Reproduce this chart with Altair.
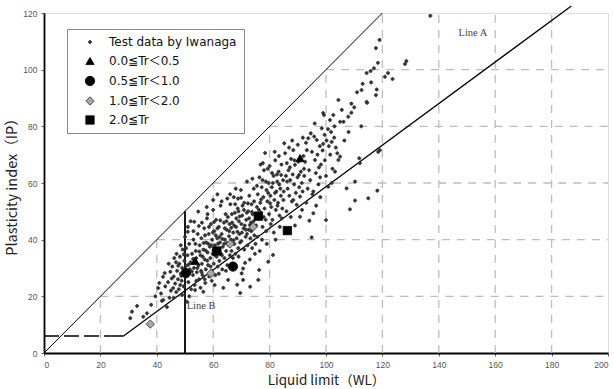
import altair as alt
import pandas as pd

# ---- data ----
# Test data by Iwanaga: (liquid limit, plasticity index)
test_points = [
    (30.6, 12.3), (31.2, 14.6), (33.0, 16.6), (35.2, 12.8), (36.5, 14.0), (40.5, 22.9), (40.9, 24.7),
    (41.8, 18.4), (42.2, 26.9), (43.6, 16.2), (44.8, 28.7), (41.5, 21.0), (43.0, 23.5), (44.0, 25.0),
    (45.0, 22.0), (44.5, 19.5), (42.8, 28.2), (45.3, 26.3), (38.0, 17.0), (39.5, 20.0), (42.3, 18.7),
    (45.8, 22.9),
    (45.5, 30.5), (46.0, 27.0), (46.5, 24.5), (46.8, 32.0), (47.2, 29.0), (47.5, 26.0), (47.8, 22.5),
    (48.0, 31.5), (48.2, 34.0), (48.5, 28.0), (48.8, 25.5), (49.0, 30.0), (49.2, 36.5), (49.5, 23.5),
    (49.8, 32.5), (50.2, 27.0), (50.5, 30.8), (50.7, 18.1), (50.9, 34.5), (51.2, 25.0), (51.5, 38.5),
    (51.7, 29.5), (52.0, 32.0), (52.2, 22.5), (52.5, 35.0), (52.8, 27.5), (53.0, 40.0), (53.2, 30.0),
    (53.4, 24.0), (53.6, 22.2), (53.8, 36.0), (54.0, 33.5), (54.2, 28.5), (54.5, 42.0), (54.7, 49.9),
    (54.8, 31.0), (55.0, 26.0), (55.2, 38.0), (55.5, 34.5), (55.7, 29.0), (47.0, 35.0), (48.5, 38.0),
    (50.0, 41.0), (51.0, 44.5), (52.0, 46.5), (53.0, 43.0), (46.0, 19.5), (49.0, 20.5), (51.5, 20.0),
    (54.0, 25.5), (51.0, 42.8), (53.3, 46.3),
    (55.8, 40.5), (56.0, 31.5), (56.2, 27.5), (56.5, 21.6), (56.5, 36.5), (56.8, 44.0), (57.0, 33.0),
    (57.2, 24.7), (57.4, 29.5), (57.5, 39.0), (57.8, 47.5), (58.0, 35.5), (58.2, 31.0), (58.4, 42.0),
    (58.6, 27.0), (58.8, 37.5), (59.0, 33.5), (59.2, 45.5), (59.4, 29.0), (59.6, 40.0), (59.8, 35.0),
    (60.0, 50.5), (60.2, 31.5), (60.4, 43.0), (60.6, 38.0), (60.8, 27.5), (61.0, 47.0), (61.2, 34.0),
    (61.4, 40.5), (61.6, 30.5), (61.8, 36.5), (62.0, 44.5), (62.2, 32.5), (62.4, 39.0), (62.6, 52.0),
    (62.8, 35.0), (63.0, 42.0), (63.2, 29.5), (63.4, 37.5), (63.6, 23.0), (63.8, 46.0), (64.0, 33.5),
    (64.2, 40.0), (64.4, 49.0), (64.6, 36.0), (64.8, 43.5), (65.0, 31.0), (65.3, 25.8), (56.3, 34.0),
    (57.1, 41.5), (58.3, 38.5), (59.1, 30.5), (59.9, 42.5), (60.7, 34.5), (61.5, 44.0), (62.3, 41.0),
    (63.1, 34.5), (63.9, 38.5), (64.7, 46.5), (58.0, 49.0), (60.0, 54.0), (61.5, 56.0), (62.0, 28.0),
    (57.0, 26.0), (59.5, 25.5), (55.5, 23.0), (60.5, 24.0), (64.5, 29.0), (63.0, 53.5), (56.0, 46.0),
    (65.2, 48.0), (65.5, 38.0), (65.7, 43.0), (65.9, 34.5), (66.1, 52.5), (66.3, 40.0), (66.5, 36.0),
    (66.7, 46.0), (66.9, 31.5), (67.1, 42.5), (67.3, 55.0), (67.5, 38.5), (67.7, 49.5), (67.9, 35.0),
    (68.1, 44.5), (68.3, 40.5), (68.5, 24.1), (68.7, 51.0), (68.9, 37.0), (69.1, 46.5), (69.3, 42.0),
    (69.6, 21.2), (69.8, 57.5), (70.0, 39.5), (70.1, 28.1), (70.3, 48.5), (70.6, 25.8), (70.6, 29.8),
    (70.8, 44.0), (71.0, 53.0), (71.3, 31.8), (71.5, 41.0), (71.7, 47.0), (72.0, 60.5), (72.2, 38.0),
    (72.4, 50.0), (72.6, 43.5), (72.8, 55.5), (73.1, 23.4), (73.2, 40.5), (73.4, 46.0), (73.6, 52.5),
    (73.8, 37.0), (74.0, 49.0), (74.2, 44.0), (74.4, 58.0), (74.6, 41.5), (74.8, 35.0), (65.8, 45.5),
    (66.6, 49.0), (67.4, 45.0), (68.2, 47.5), (69.0, 50.0), (69.5, 39.0), (70.4, 52.0), (71.2, 45.0),
    (71.9, 49.5), (72.7, 47.5), (73.5, 43.0), (74.3, 46.5), (66.0, 56.0), (68.0, 58.0), (70.0, 45.5),
    (72.0, 42.0), (67.0, 33.5), (69.0, 34.0), (71.0, 36.5), (73.0, 33.0), (75.0, 38.5), (68.8, 54.5),
    (75.2, 45.0), (75.5, 51.5), (75.8, 56.0), (76.0, 25.8), (76.1, 47.5), (76.3, 29.3), (76.4, 62.0),
    (76.7, 53.0), (77.0, 49.5), (77.2, 58.5), (77.5, 44.5), (77.8, 55.0), (78.0, 64.5), (78.2, 51.0),
    (78.4, 70.6), (78.6, 47.0), (78.9, 57.5), (79.2, 53.5), (79.5, 32.2), (79.6, 60.0), (79.8, 49.0),
    (80.0, 66.0), (80.3, 55.5), (80.6, 51.5), (80.8, 58.5), (81.0, 47.0), (81.2, 34.6), (81.4, 62.5),
    (81.7, 54.0), (82.0, 68.0), (82.2, 50.5), (82.4, 57.0), (82.7, 60.5), (83.0, 53.0), (83.2, 64.0),
    (83.5, 48.5), (83.8, 58.0), (84.0, 55.5), (84.2, 66.5), (84.5, 51.0), (84.8, 61.0), (85.0, 57.0),
    (75.7, 41.0), (77.3, 40.0), (78.8, 43.0), (80.4, 45.5), (82.1, 40.0), (83.6, 44.5), (76.5, 36.0),
    (79.0, 38.5), (81.5, 42.5), (77.5, 61.0), (79.3, 65.0), (80.9, 63.5), (82.8, 52.0), (84.3, 47.5),
    (75.5, 59.0), (76.8, 66.5), (81.8, 71.0), (83.3, 69.5),
    (85.5, 70.5), (85.8, 62.5), (86.1, 67.0), (86.4, 58.0), (86.7, 64.5), (87.0, 55.5), (87.3, 61.0),
    (87.6, 68.5), (87.9, 53.5), (88.2, 63.0), (88.4, 71.6), (88.4, 54.0), (88.7, 59.5), (89.0, 66.4),
    (89.3, 56.5), (89.6, 52.3), (89.9, 62.0), (90.2, 67.5), (90.5, 58.5), (90.8, 55.2), (90.8, 48.1),
    (91.1, 64.0), (91.4, 60.0), (91.7, 57.0), (92.0, 69.5), (92.3, 62.5), (92.6, 67.5), (92.9, 74.2),
    (93.2, 71.6), (93.5, 58.0), (93.7, 75.8), (94.0, 64.5), (94.1, 46.7), (94.4, 61.0), (94.6, 77.5),
    (94.9, 40.8), (95.0, 71.0), (95.2, 56.0), (95.5, 49.3), (95.5, 57.0), (86.0, 50.0), (87.5, 48.0),
    (89.0, 45.0), (91.5, 50.5), (93.0, 53.0), (85.2, 74.0), (86.9, 72.5), (88.0, 75.0), (90.0, 73.5),
    (91.8, 76.0),
    (95.8, 76.4), (96.1, 68.1), (96.4, 63.5), (96.7, 75.2), (97.0, 70.0), (97.3, 59.5), (97.8, 73.0),
    (97.9, 62.0), (98.2, 66.5), (98.5, 79.3), (98.8, 71.5), (99.0, 73.8), (99.0, 84.7), (99.3, 84.0),
    (99.6, 68.0), (100.0, 46.9), (100.2, 75.0), (100.7, 79.0), (100.8, 58.7), (101.0, 73.0),
    (101.4, 82.2), (101.8, 78.0), (102.0, 74.5), (102.3, 65.0), (102.6, 84.0), (102.9, 76.0),
    (103.2, 64.0), (103.5, 72.5), (104.0, 70.5), (104.4, 89.3), (104.4, 68.1), (105.0, 69.3),
    (105.0, 81.6), (105.6, 85.8), (96.0, 81.0), (97.5, 65.5), (99.5, 77.0), (101.5, 70.0),
    (103.0, 80.0), (100.0, 62.5), (98.0, 55.0), (96.5, 52.0), (102.0, 60.0),
    (106.2, 81.6), (107.3, 58.1), (107.9, 83.4), (108.5, 50.7), (109.0, 88.0), (109.0, 84.8),
    (110.0, 86.7), (110.3, 60.5), (110.3, 53.8), (111.0, 92.0), (111.8, 68.7), (112.0, 67.0),
    (112.6, 92.8), (113.0, 95.0), (114.4, 88.6), (114.4, 98.8), (114.6, 88.3), (115.0, 54.6),
    (115.8, 99.5), (117.0, 100.5), (117.7, 91.0), (117.7, 107.6), (118.0, 93.0), (118.2, 57.3),
    (118.4, 102.4), (118.5, 71.0), (119.0, 110.5), (119.1, 71.6), (120.9, 97.5), (122.0, 98.8),
    (123.6, 96.7), (128.0, 102.0), (128.5, 103.0), (137.0, 119.0), (106.5, 75.0), (108.0, 78.0),
    (112.5, 80.0), (116.0, 95.5),
    (46.2, 33.5), (47.6, 30.8), (48.7, 27.2), (49.6, 34.8), (50.4, 37.0), (51.3, 31.2), (52.4, 28.8),
    (52.9, 33.2), (53.7, 38.5), (54.4, 30.0), (55.1, 35.8), (55.9, 28.5), (56.6, 38.8), (57.3, 36.2),
    (57.9, 32.6), (58.5, 44.5), (59.3, 38.0), (60.1, 36.2), (60.9, 41.5), (61.7, 38.6), (62.5, 46.8),
    (63.3, 40.2), (64.1, 44.0), (64.9, 38.8), (65.6, 41.2), (66.4, 44.2), (67.2, 39.8), (67.8, 52.5),
    (68.6, 42.8), (69.4, 48.2), (70.2, 42.5), (70.9, 50.5), (71.6, 43.5), (72.3, 52.8), (73.0, 45.2),
    (73.7, 49.8), (74.5, 53.5), (75.3, 48.5), (76.2, 50.5), (77.0, 54.2), (77.9, 48.0), (78.7, 60.5),
    (79.5, 56.5), (80.2, 52.8), (81.1, 60.0), (81.9, 56.5), (82.6, 63.0), (83.4, 59.5), (84.1, 62.8),
    (84.9, 54.0), (86.2, 60.5), (87.2, 65.5), (88.8, 68.0), (90.4, 62.8), (92.2, 65.0), (44.2, 31.5),
    (46.9, 21.5), (48.3, 24.0), (54.9, 44.8), (57.7, 51.5), (60.3, 46.2), (65.0, 54.5), (69.9, 54.8),
    (73.9, 61.5), (77.6, 67.0),
]

tr_00_05 = [(53.6, 32.5), (90.8, 68.8)]
tr_05_10 = [(50.3, 28.2), (67.0, 30.5)]
tr_10_20 = [(37.7, 10.2), (59.2, 28.1), (66.0, 38.5), (74.2, 44.5)]
tr_20_up = [(61.3, 36.0), (76.0, 48.3), (86.3, 43.2)]

labels = ["Test data by Iwanaga", "0.0≦Tr＜0.5", "0.5≦Tr＜1.0", "1.0≦Tr＜2.0", "2.0≦Tr"]
small_dot = "M0.37,0A0.37,0.37,0,1,1,-0.37,0A0.37,0.37,0,1,1,0.37,0Z"
big_dot = "M1.12,0A1.12,1.12,0,1,1,-1.12,0A1.12,1.12,0,1,1,1.12,0Z"
shapes = [small_dot, "triangle-up", big_dot, "diamond", "square"]
fills = ["#333333", "#000000", "#000000", "#a8a8a8", "#000000"]
strokes = ["#333333", "#000000", "#000000", "#333333", "#000000"]

x_ticks = [0, 20, 40, 60, 80, 100, 120, 140, 160, 180, 200]
y_ticks = [0, 20, 40, 60, 80, 100, 120]
grid_x = [20, 40, 60, 80, 100, 120, 140, 160, 180]
grid_y = [20, 40, 60, 80, 100]

# reference lines: name, x, y, x2, y2
ref_lines = [
    ("U", 0, 0, 120, 120),
    ("A", 28.2, 6, 187, 122.5),
    ("Ah", 24, 6, 28.2, 6),
    ("B", 50, 0, 50, 50),
]
dashed_line = [("Ad", 0, 6, 24, 6)]
line_labels = [("Line A", 147, 113), ("Line B", 50.6, 16.5)]

# ---- build tables ----
rows = [{"LL": a, "PI": b, "group": labels[0]} for a, b in test_points]
for lab, pts in zip(labels[1:], [tr_00_05, tr_05_10, tr_10_20, tr_20_up]):
    rows += [{"LL": a, "PI": b, "group": lab} for a, b in pts]
df = pd.DataFrame(rows)

vgrid = pd.DataFrame({"x": grid_x, "y": [0] * len(grid_x), "y2": [min(v, 120) for v in grid_x]})
hgrid = pd.DataFrame({"y": grid_y, "x": grid_y, "x2": [200] * len(grid_y)})
lines_df = pd.DataFrame(ref_lines, columns=["name", "x", "y", "x2", "y2"])
dash_df = pd.DataFrame(dashed_line, columns=["name", "x", "y", "x2", "y2"])
lab_df = pd.DataFrame(line_labels, columns=["text", "x", "y"])

xs = alt.Scale(domain=[0, 200], nice=False, zero=False)
ys = alt.Scale(domain=[0, 120], nice=False, zero=False)

FONT = "DejaVu Sans, Noto Sans CJK JP"
xaxis = alt.Axis(values=x_ticks, title="Liquid limit（WL）", grid=False, labelFont="Liberation Sans",
                 labelFontSize=8.5, labelColor="#555", tickSize=3, tickColor="#666", labelPadding=4,
                 domainColor="#000", domainWidth=1.8, titleFont="Noto Sans CJK JP", titleFontSize=13.5,
                 titleFontWeight="normal", titleColor="#222", titlePadding=5)
yaxis = alt.Axis(values=y_ticks, title="Plasticity index（IP）", grid=False, labelFont="Liberation Sans",
                 labelFontSize=8.5, labelColor="#555", tickSize=3, tickColor="#666", labelPadding=4,
                 domainColor="#000", domainWidth=1.8, titleFont="Noto Sans CJK JP", titleFontSize=14.5,
                 titleFontWeight="normal", titleColor="#222", titlePadding=3)


def X(f):
    return alt.X(f, scale=xs, axis=xaxis)


def Y(f):
    return alt.Y(f, scale=ys, axis=yaxis)


grid_style = dict(strokeDash=[8, 7], color="#bdbdbd", strokeWidth=1.3)
vg = alt.Chart(vgrid).mark_rule(**grid_style).encode(x=X("x:Q"), y=Y("y:Q"), y2="y2:Q")
hg = alt.Chart(hgrid).mark_rule(**grid_style).encode(x=X("x:Q"), x2="x2:Q", y=Y("y:Q"))

width_map = alt.Scale(domain=["U", "A", "Ah", "B"], range=[1.0, 1.8, 1.8, 1.8])
lines = alt.Chart(lines_df).mark_rule(color="#000").encode(
    x=X("x:Q"), x2="x2:Q", y=Y("y:Q"), y2="y2:Q",
    strokeWidth=alt.StrokeWidth("name:N", scale=width_map, legend=None))
dashed = alt.Chart(dash_df).mark_rule(color="#000", strokeWidth=1.6, strokeDash=[15, 5]).encode(
    x=X("x:Q"), x2="x2:Q", y=Y("y:Q"), y2="y2:Q")

texts = alt.Chart(lab_df).mark_text(font="Liberation Serif", fontSize=10.5, align="left",
                                    baseline="middle", color="#444").encode(
    x=X("x:Q"), y=Y("y:Q"), text="text:N")

leg = alt.Legend(title=None, orient="none", legendX=23, legendY=16, fillColor="white",
                 strokeColor="#888", padding=7, symbolOffset=10, labelOffset=13, rowPadding=7,
                 labelFont=FONT, labelFontSize=12, labelColor="#111", symbolStrokeWidth=0.8,
                 symbolOpacity=1, symbolSize=70)
points = alt.Chart(df).mark_point(filled=True, opacity=1, strokeWidth=0.8, size=70).encode(
    x=X("LL:Q"), y=Y("PI:Q"),
    shape=alt.Shape("group:N", scale=alt.Scale(domain=labels, range=shapes), legend=leg),
    fill=alt.Fill("group:N", scale=alt.Scale(domain=labels, range=fills), legend=leg),
    stroke=alt.Stroke("group:N", scale=alt.Scale(domain=labels, range=strokes), legend=leg),
)

chart = alt.layer(vg, hg, lines, dashed, texts, points).properties(
    width=564, height=340, autosize="none",
    padding={"left": 44, "top": 13, "right": 6, "bottom": 36},
).configure_view(stroke="#000", strokeWidth=1.3).configure(background="white")

chart.save("out.html", embed_options={"renderer": "svg", "actions": False})
